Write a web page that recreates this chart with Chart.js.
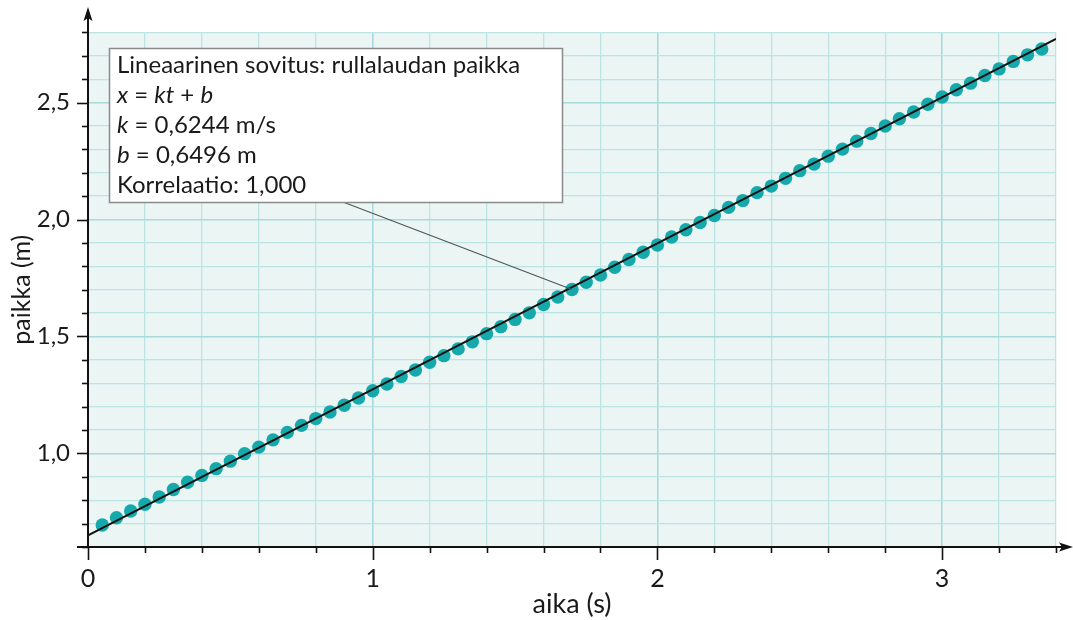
<!DOCTYPE html>
<html><head><meta charset="utf-8">
<script src="https://cdn.jsdelivr.net/npm/chart.js@4.4.0/dist/chart.umd.min.js"></script>
<style>html,body{margin:0;padding:0;background:#fff;} canvas{display:block;}</style>
</head><body>
<canvas id="c" width="1073" height="620"></canvas>
<script>
// ---- data ----
const times = [0.05,0.10,0.15,0.20,0.25,0.30,0.35,0.40,0.45,0.50,0.55,0.60,0.65,0.70,0.75,0.80,0.85,0.90,0.95,1.00,
  1.05,1.10,1.15,1.20,1.25,1.30,1.35,1.40,1.45,1.50,1.55,1.60,1.65,1.70,1.75,1.80,1.85,1.90,1.95,2.00,
  2.05,2.10,2.15,2.20,2.25,2.30,2.35,2.40,2.45,2.50,2.55,2.60,2.65,2.70,2.75,2.80,2.85,2.90,2.95,3.00,
  3.05,3.10,3.15,3.20,3.25,3.30,3.35];
const positions = [0.694,0.725,0.754,0.783,0.814,0.846,0.877,0.906,0.935,0.967,0.999,1.027,1.058,1.090,1.120,1.149,1.177,1.206,1.237,1.268,
  1.297,1.329,1.357,1.390,1.418,1.447,1.477,1.512,1.542,1.573,1.601,1.637,1.669,1.701,1.732,1.763,1.796,1.829,1.860,1.891,
  1.925,1.956,1.987,2.017,2.052,2.081,2.115,2.143,2.176,2.209,2.237,2.271,2.301,2.335,2.368,2.400,2.431,2.460,2.493,2.524,
  2.555,2.583,2.616,2.644,2.676,2.704,2.729];
const fitTimes = [0, 3.4];
const fitPositions = [0.6496, 2.7726];
const xTickValues = [0, 1, 2, 3];
const xTickLabels = ['0', '1', '2', '3'];
const yTickValues = [1.0, 1.5, 2.0, 2.5];
const yTickLabels = ['1,0', '1,5', '2,0', '2,5'];
const xTitle = 'aika (s)';
const yTitle = 'paikka (m)';
const annotationIndex = 33; // the point t = 1,70 s
const annotationLines = [
  [{t:'Lineaarinen sovitus: rullalaudan paikka'}],
  [{t:'x', i:true},{t:' = '},{t:'kt', i:true},{t:' + '},{t:'b', i:true}],
  [{t:'k', i:true},{t:' = 0,6244 m/s'}],
  [{t:'b', i:true},{t:' = 0,6496 m'}],
  [{t:'Korrelaatio: 1,000'}]
];

const FONT = 'Lato, "Open Sans", sans-serif';
const TEXT = '#1a1a1a';
const near = (a, b) => Math.abs(a - b) < 1e-6;

const bgPlugin = {
  id: 'bg',
  beforeDraw(chart) {
    const {ctx, chartArea: a} = chart;
    ctx.save();
    ctx.fillStyle = '#eaf5f4';
    ctx.fillRect(a.left, a.top, a.right - a.left, a.bottom - a.top);
    ctx.restore();
  }
};

const axesPlugin = {
  id: 'axes',
  afterDraw(chart) {
    const {ctx, chartArea: a, scales: {x, y}} = chart;
    ctx.save();
    ctx.strokeStyle = '#111';
    ctx.fillStyle = '#111';
    ctx.lineWidth = 1.6;
    x.ticks.forEach(tk => {
      const px = Math.round(x.getPixelForValue(tk.value)) + 0.5;
      const major = xTickValues.some(v => near(v, tk.value));
      ctx.beginPath(); ctx.moveTo(px, a.bottom); ctx.lineTo(px, a.bottom + (major ? 13 : 6)); ctx.stroke();
    });
    y.ticks.forEach(tk => {
      const py = Math.round(y.getPixelForValue(tk.value)) + 0.5;
      const major = yTickValues.some(v => near(v, tk.value));
      ctx.beginPath(); ctx.moveTo(a.left, py); ctx.lineTo(a.left - (major ? 11 : 6), py); ctx.stroke();
    });
    ctx.lineWidth = 2;
    ctx.beginPath(); ctx.moveTo(a.left, a.bottom + 1); ctx.lineTo(a.left, 14); ctx.stroke();
    ctx.beginPath(); ctx.moveTo(a.left, 7); ctx.lineTo(a.left - 4.5, 21); ctx.lineTo(a.left, 18); ctx.lineTo(a.left + 4.5, 21); ctx.closePath(); ctx.fill();
    ctx.beginPath(); ctx.moveTo(a.left - 11, a.bottom); ctx.lineTo(1066, a.bottom); ctx.stroke();
    ctx.beginPath(); ctx.moveTo(1073, a.bottom); ctx.lineTo(1059, a.bottom - 4.5); ctx.lineTo(1062, a.bottom); ctx.lineTo(1059, a.bottom + 4.5); ctx.closePath(); ctx.fill();
    ctx.restore();
  }
};

const notePlugin = {
  id: 'note',
  afterDraw(chart) {
    const {ctx, scales: {x, y}} = chart;
    const bx = 109, by = 48, bw = 453, bh = 154;
    const tx = x.getPixelForValue(times[annotationIndex]);
    const ty = y.getPixelForValue(positions[annotationIndex]);
    ctx.save();
    ctx.strokeStyle = '#555';
    ctx.lineWidth = 1.2;
    ctx.beginPath(); ctx.moveTo(343, by + bh); ctx.lineTo(tx, ty); ctx.stroke();
    ctx.fillStyle = '#ffffff';
    ctx.fillRect(bx, by, bw, bh);
    ctx.strokeStyle = '#8a8a8a';
    ctx.lineWidth = 1.5;
    ctx.strokeRect(bx + 0.5, by + 0.5, bw, bh);
    ctx.fillStyle = TEXT;
    ctx.textBaseline = 'alphabetic';
    annotationLines.forEach((line, li) => {
      let cx = 117;
      const base = 73 + li * 30;
      line.forEach(seg => {
        ctx.font = (seg.i ? 'italic ' : '') + '24px ' + FONT;
        ctx.fillText(seg.t, cx, base);
        cx += ctx.measureText(seg.t).width;
      });
    });
    ctx.restore();
  }
};

new Chart(document.getElementById('c'), {
  data: {
    datasets: [
      {
        type: 'line',
        data: fitTimes.map((t, i) => ({x: t, y: fitPositions[i]})),
        borderColor: '#111',
        borderWidth: 2,
        pointRadius: 0,
        fill: false,
        order: 0
      },
      {
        type: 'scatter',
        data: times.map((t, i) => ({x: t, y: positions[i]})),
        backgroundColor: '#16a9ac',
        borderWidth: 0,
        pointRadius: 6.7,
        order: 1
      }
    ]
  },
  options: {
    responsive: false,
    devicePixelRatio: 1,
    animation: false,
    events: [],
    layout: {padding: {top: 31, right: 16, left: 0, bottom: 0}},
    plugins: {legend: {display: false}, tooltip: {enabled: false}},
    scales: {
      x: {
        type: 'linear',
        min: 0, max: 3.4,
        afterFit(s) { s.height = 73; },
        border: {display: false},
        grid: {
          drawTicks: false,
          color: c => xTickValues.some(v => near(v, c.tick.value)) ? '#a9dadc' : '#bde4e5',
          lineWidth: c => xTickValues.some(v => near(v, c.tick.value)) ? 1.6 : 1.3
        },
        ticks: {
          stepSize: 0.2,
          autoSkip: false,
          maxRotation: 0,
          padding: 17,
          color: TEXT,
          font: {family: FONT, size: 25},
          callback: v => {
            const k = xTickValues.findIndex(t => near(t, v));
            return k >= 0 ? xTickLabels[k] : '';
          }
        },
        title: {display: true, text: xTitle, color: TEXT, font: {family: FONT, size: 27}, padding: {top: 0, bottom: 0}}
      },
      y: {
        type: 'linear',
        min: 0.6, max: 2.8,
        afterFit(s) { s.width = 88; },
        border: {display: false},
        grid: {
          drawTicks: false,
          color: c => yTickValues.some(v => near(v, c.tick.value)) ? '#a9dadc' : '#bde4e5',
          lineWidth: c => yTickValues.some(v => near(v, c.tick.value)) ? 1.6 : 1.3
        },
        ticks: {
          stepSize: 0.1,
          autoSkip: false,
          padding: 18,
          color: TEXT,
          font: {family: FONT, size: 24},
          callback: v => {
            const k = yTickValues.findIndex(t => near(t, v));
            return k >= 0 ? yTickLabels[k] : '';
          }
        },
        title: {display: true, text: yTitle, color: TEXT, font: {family: FONT, size: 25}, padding: {top: 7, bottom: 0}}
      }
    }
  },
  plugins: [bgPlugin, axesPlugin, notePlugin]
});
</script>
</body></html>
